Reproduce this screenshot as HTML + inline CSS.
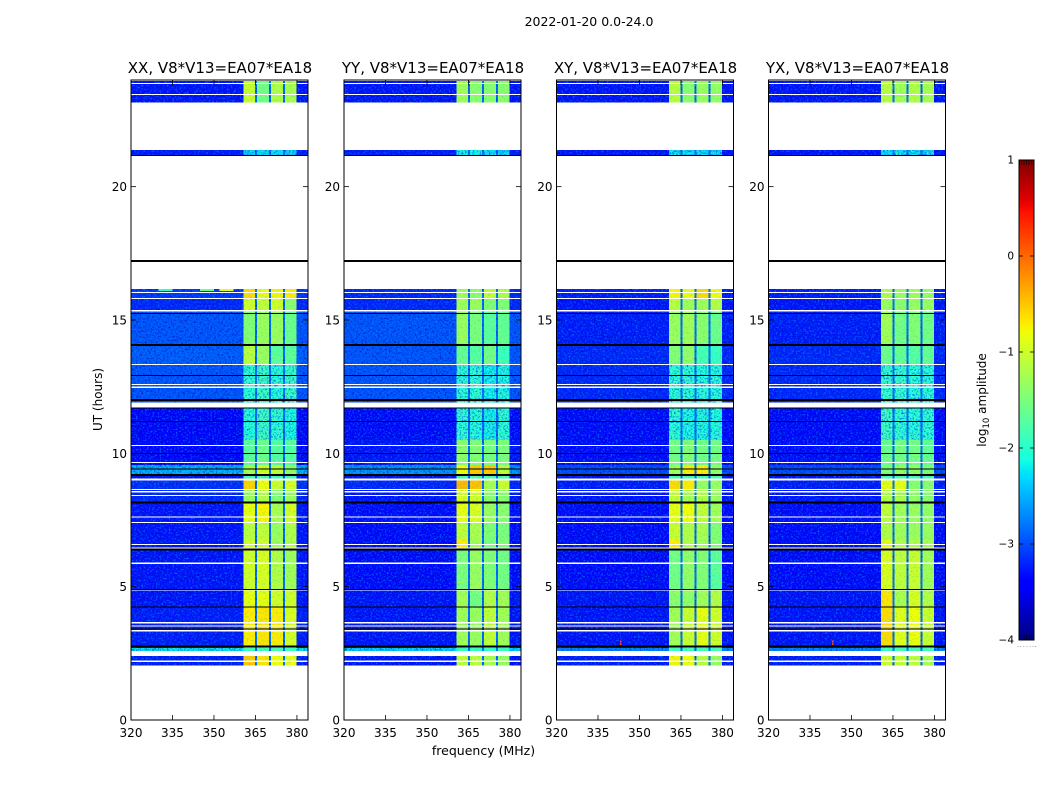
<!DOCTYPE html>
<html lang="en">
<head>
<meta charset="utf-8">
<title>2022-01-20 0.0-24.0</title>
<style>
html,body{margin:0;padding:0;background:#fff;}
svg{display:block;font-family:"DejaVu Sans","Liberation Sans",sans-serif;}
</style>
</head>
<body>
<svg id="chart" width="1050" height="800" viewBox="0 0 1050 800" xmlns="http://www.w3.org/2000/svg">
<defs id="defs"></defs>
<text x="589" y="26" font-size="12.5" text-anchor="middle" fill="#000">2022-01-20 0.0-24.0</text>
<text x="483.500" y="755" font-size="12.5" text-anchor="middle" fill="#000">frequency (MHz)</text>
<text transform="translate(102,399.500) rotate(-90)" font-size="12" text-anchor="middle" fill="#000">UT (hours)</text>
<text transform="translate(986,400) rotate(-90)" font-size="12" text-anchor="middle" fill="#000">log<tspan font-size="8.500" dy="3">10</tspan><tspan dy="-3"> amplitude</tspan></text>
<g id="panels"></g>
<g id="colorbar"></g>
</svg>
<script>
// ---- data (log10 amplitude) ----
const panelTitles = ["XX, V8*V13=EA07*EA18","YY, V8*V13=EA07*EA18","XY, V8*V13=EA07*EA18","YX, V8*V13=EA07*EA18"];
const panelNames = ["xx","yy","xy","yx"];
const hourTicks = [0,5,10,15,20];
const freqTicks = [320,335,350,365,380];
const colorbarTicks = [1,0,-1,-2,-3,-4];
// Time blocks, top to bottom (hours)
const rowTop    = [23.97,21.38,16.16,15.83,15.34,14.06,13.35,11.72,10.50,9.56,9.19,8.98,8.63,8.18,7.43,6.75,6.41,4.88,4.20,2.70,2.40];
const rowBottom = [23.16,21.19,15.83,15.34,14.06,13.35,11.91,10.50,9.56,9.19,9.06,8.63,8.18,7.43,6.75,6.41,4.88,4.20,2.70,2.59,2.04];
// Rows whose bands look strongly speckled in the picture
const noisyRows = [1,6,7];
// Sub-band frequency limits (MHz)
const bandLow  = [360.6,365.5,370.6,375.7];
const bandHigh = [364.8,369.9,375.0,379.9];
const freqMin = 320;
const freqMax = 384;
const gapLevel = -2.8;
// Each row: [background, band1, band2, band3, band4]
const xxLevels = [
 [-3.3,-1.05,-1.6,-1.2,-1.25],[-3.25,-2.4,-2.3,-2.3,-2.4],[-3.1,-0.6,-0.85,-0.75,-0.7],
 [-3.2,-1.0,-1.1,-1.0,-1.45],[-2.95,-1.5,-1.35,-1.35,-1.65],[-2.9,-1.15,-1.35,-1.75,-1.75],
 [-2.95,-2.05,-1.95,-2.1,-1.95],[-3.4,-2.1,-1.95,-2.05,-2.15],[-3.4,-1.75,-1.65,-1.8,-1.8],
 [-2.45,-1.25,-1.0,-1.1,-1.4],[-3.3,-1.9,-1.9,-1.9,-1.9],[-3.15,-0.55,-0.8,-1.05,-0.95],
 [-3.2,-1.35,-1.2,-1.5,-1.35],[-3.3,-0.85,-0.75,-1.25,-0.95],[-3.3,-1.15,-1.1,-1.35,-1.2],
 [-3.3,-1.0,-1.0,-1.3,-1.2],[-3.3,-1.0,-0.95,-1.2,-1.3],[-3.3,-0.85,-0.85,-1.0,-1.0],
 [-3.25,-0.7,-0.65,-0.7,-0.95],[-2.2,-1.9,-1.9,-1.9,-1.9],[-3.25,-0.5,-0.65,-0.8,-0.85]];
const yyLevels = [
 [-3.3,-1.3,-1.45,-1.45,-1.45],[-3.25,-2.2,-2.2,-2.3,-2.4],[-3.2,-1.3,-1.45,-1.1,-1.25],
 [-3.2,-1.3,-1.35,-1.5,-1.5],[-2.95,-1.35,-1.55,-1.75,-1.7],[-2.95,-1.7,-1.8,-1.6,-1.95],
 [-2.95,-2.05,-2.05,-2.2,-2.15],[-3.35,-2.05,-2.1,-2.2,-2.05],[-3.3,-1.45,-1.5,-1.55,-1.55],
 [-2.6,-0.8,-0.5,-0.5,-1.1],[-3.3,-1.9,-1.9,-1.9,-1.9],[-3.2,-0.4,-0.45,-1.25,-1.05],
 [-3.3,-0.95,-1.0,-1.45,-1.45],[-3.35,-0.85,-0.95,-1.35,-1.45],[-3.35,-1.1,-1.25,-1.5,-1.55],
 [-3.35,-0.7,-1.3,-1.55,-1.5],[-3.35,-1.55,-1.35,-1.5,-1.6],[-3.3,-1.3,-1.6,-1.2,-1.3],
 [-3.3,-1.3,-1.35,-1.1,-1.3],[-2.3,-2.0,-2.0,-2.0,-2.0],[-3.3,-1.1,-1.15,-1.25,-1.35]];
const xyLevels = [
 [-3.3,-1.15,-1.45,-1.35,-1.4],[-3.3,-2.3,-2.3,-2.3,-2.4],[-3.25,-0.75,-0.85,-0.6,-0.8],
 [-3.3,-1.15,-1.3,-1.3,-1.2],[-3.25,-1.35,-1.3,-1.45,-1.65],[-3.2,-1.5,-1.4,-1.9,-2.0],
 [-3.2,-2.05,-2.05,-2.1,-2.1],[-3.35,-2.05,-2.15,-2.15,-2.1],[-3.35,-1.6,-1.5,-1.6,-1.6],
 [-3.0,-1.3,-0.7,-0.7,-1.4],[-3.3,-1.9,-1.9,-1.9,-1.9],[-3.25,-0.6,-0.7,-1.35,-1.35],
 [-3.3,-1.1,-1.25,-1.2,-1.35],[-3.35,-0.85,-0.8,-1.1,-1.3],[-3.35,-1.05,-1.2,-1.25,-1.5],
 [-3.35,-0.7,-1.2,-1.3,-1.5],[-3.35,-1.6,-1.4,-1.5,-1.75],[-3.3,-1.45,-1.4,-1.3,-1.2],
 [-3.3,-1.3,-1.05,-0.85,-1.0],[-2.7,-1.9,-1.9,-1.9,-1.9],[-3.25,-0.75,-0.8,-1.15,-1.35]];
const yxLevels = [
 [-3.3,-1.15,-1.3,-1.2,-1.25],[-3.3,-2.3,-2.3,-2.3,-2.4],[-3.25,-1.2,-1.35,-1.3,-1.35],
 [-3.3,-1.35,-1.45,-1.35,-1.35],[-3.25,-1.3,-1.6,-1.5,-1.6],[-3.2,-1.65,-1.7,-1.8,-1.7],
 [-3.2,-2.0,-2.0,-2.1,-2.05],[-3.35,-1.95,-2.05,-2.1,-2.05],[-3.35,-1.65,-1.6,-1.6,-1.7],
 [-3.0,-1.5,-1.4,-1.4,-1.5],[-3.3,-1.9,-1.9,-1.9,-1.9],[-3.25,-0.85,-0.85,-1.45,-1.45],
 [-3.3,-1.2,-1.25,-1.4,-1.45],[-3.35,-1.1,-1.3,-1.35,-1.4],[-3.35,-1.2,-1.3,-1.35,-1.35],
 [-3.35,-0.85,-1.2,-1.2,-1.25],[-3.35,-0.95,-1.1,-1.05,-1.3],[-3.3,-0.65,-1.25,-0.95,-1.2],
 [-3.3,-0.6,-0.9,-0.8,-1.05],[-2.7,-1.9,-1.9,-1.9,-1.9],[-3.25,-1.0,-1.05,-1.1,-1.25]];
const panelLevels = [xxLevels,yyLevels,xyLevels,yxLevels];
// Flagged / missing integrations (hours)
const whiteLineHours = [23.87,23.46,16.03,15.81,15.35,13.34,12.58,12.48,10.30,9.66,8.65,8.56,8.42,7.62,7.41,6.59,6.45,5.88,4.88,3.65,3.53,3.35,2.21];
const blackThinHours = [21.17,15.25,12.91,11.70,11.20,10.00,9.42,4.90,4.23,3.42];
const blackThickHours = [17.22,14.06,12.00,9.19,8.16,6.39,2.75];
// Isolated hot spots: panel index, frequency (MHz), hour, level
const spotPanel = [2,2,3,3,0,0,0];
const spotFreq  = [343,343,343,343,330,345,352];
const spotHour  = [2.95,2.85,2.95,2.85,16.12,16.12,16.12];
const spotLevel = [0.1,0.2,0.1,0.2,-2.0,-1.6,-0.9];

// ---- geometry ----
const SVGNS = "http://www.w3.org/2000/svg";
const panelLeft = [131,344,556.5,768.5];
const panelWidth = 177;
const plotTop = 80, plotBottom = 720;
const cbLeft = 1019, cbRight = 1034, cbTop = 160, cbBottom = 640;
const xScale = (p,f) => panelLeft[p] + (f - freqMin) / (freqMax - freqMin) * panelWidth;
const yScale = h => plotBottom - h / 24 * (plotBottom - plotTop);
const cbScale = v => cbBottom - (v + 4) / 5 * (cbBottom - cbTop);

function ramp(t, pts){
  for (let i = 1; i < pts.length; i++) {
    if (t <= pts[i][0]) {
      const a = pts[i-1], b = pts[i];
      return a[1] + (t - a[0]) / (b[0] - a[0]) * (b[1] - a[1]);
    }
  }
  return pts[pts.length-1][1];
}
function jet(t){
  t = Math.max(0, Math.min(1, t));
  const r = ramp(t, [[0,0],[0.35,0],[0.66,1],[0.89,1],[1,0.5]]);
  const g = ramp(t, [[0,0],[0.125,0],[0.375,1],[0.64,1],[0.91,0],[1,0]]);
  const b = ramp(t, [[0,0.5],[0.11,1],[0.34,1],[0.65,0],[1,0]]);
  return "rgb(" + Math.round(r*255) + "," + Math.round(g*255) + "," + Math.round(b*255) + ")";
}
const levelColor = v => jet((v + 4) / 5);

function mk(tag, attrs, parent){
  const el = document.createElementNS(SVGNS, tag);
  for (const k in attrs) el.setAttribute(k, attrs[k]);
  parent.appendChild(el);
  return el;
}

const defs = document.getElementById("defs");
const panelsRoot = document.getElementById("panels");

// Speckle textures applied as rendering filters (visual grain only)
function makeSpeckle(id, left, seed, darkRgb, darkK, darkC, lightRgb, lightK, lightC){
  const f = mk("filter", {id:id, x:left, y:plotTop, width:panelWidth, height:plotBottom-plotTop, filterUnits:"userSpaceOnUse", "color-interpolation-filters":"sRGB"}, defs);
  mk("feTurbulence", {type:"fractalNoise", baseFrequency:"0.55", numOctaves:"2", seed:String(seed), result:"n"}, f);
  mk("feColorMatrix", {in:"n", type:"matrix", values:"0 0 0 0 "+darkRgb[0]+"  0 0 0 0 "+darkRgb[1]+"  0 0 0 0 "+darkRgb[2]+"  "+darkK+" 0 0 0 "+darkC, result:"dark"}, f);
  mk("feComposite", {in:"dark", in2:"SourceAlpha", operator:"in", result:"darkIn"}, f);
  mk("feColorMatrix", {in:"n", type:"matrix", values:"0 0 0 0 "+lightRgb[0]+"  0 0 0 0 "+lightRgb[1]+"  0 0 0 0 "+lightRgb[2]+"  0 "+lightK+" 0 0 "+lightC, result:"light"}, f);
  mk("feComposite", {in:"light", in2:"SourceAlpha", operator:"in", result:"lightIn"}, f);
  const m = mk("feMerge", {}, f);
  mk("feMergeNode", {in:"SourceGraphic"}, m);
  mk("feMergeNode", {in:"darkIn"}, m);
  mk("feMergeNode", {in:"lightIn"}, m);
}
panelLeft.forEach((left, p) => {
  makeSpeckle("speckleBg"+p, left, 3+p*7, [0,0.05,0.7], 2.4, -1.15, [0,0.5,1], 2.6, -1.3);
  makeSpeckle("speckleSmooth"+p, left, 5+p*7, [0.3,0.8,0.3], 1.4, -0.72, [1,1,0.2], 1.2, -0.62);
  makeSpeckle("speckleNoisy"+p, left, 9+p*7, [0,0.25,0.9], 2.6, -1.25, [0.5,1,0.6], 2.4, -1.2);
});

panelLeft.forEach((left, p) => {
  const name = panelNames[p];
  const g = mk("g", {"shape-rendering":"crispEdges"}, panelsRoot);
  
  

  // heatmap cells, grouped by texture
  const cellsBg = mk("g", {filter:"url(#speckleBg"+p+")"}, g);
  
  
  const cellsSmooth = mk("g", {filter:"url(#speckleSmooth"+p+")"}, g);
  
  
  const cellsNoisy = mk("g", {filter:"url(#speckleNoisy"+p+")"}, g);
  
  

  const levels = panelLevels[p];
  rowTop.forEach((top, r) => {
    const row = levels[r];
    const y0 = yScale(top), y1 = yScale(rowBottom[r]);
    const bandGroup = noisyRows.includes(r) ? cellsNoisy : cellsSmooth;
    const spans = [[freqMin, bandLow[0], row[0], cellsBg]];
    bandLow.forEach((lo, b) => {
      spans.push([lo, bandHigh[b], row[b+1], bandGroup]);
      const next = b < bandLow.length - 1 ? bandLow[b+1] : null;
      if (next !== null) spans.push([bandHigh[b], next, gapLevel, cellsBg]);
    });
    spans.push([bandHigh[bandHigh.length-1], freqMax, row[0], cellsBg]);
    spans.forEach(s => {
      const cell = mk("rect", {x:xScale(p,s[0]), y:y0, width:xScale(p,s[1])-xScale(p,s[0]), height:y1-y0, fill:levelColor(s[2])}, s[3]);
      
      
    });
  });

  // hot spots
  spotPanel.forEach((sp, i) => {
    if (sp !== p) return;
    const wide = spotLevel[i] < -0.5 ? 10 : 1;
    const spot = mk("rect", {x:xScale(p,spotFreq[i]), y:yScale(spotHour[i])-1, width:wide*1.4, height:2, fill:levelColor(spotLevel[i])}, g);
    
    
  });

  // flagged lines
  whiteLineHours.forEach(h => {
    const l = mk("rect", {x:left, y:yScale(h)-0.5, width:panelWidth, height:1.2, fill:"#fff"}, g);
    
    
  });
  blackThinHours.forEach(h => {
    const l = mk("rect", {x:left, y:yScale(h)-0.5, width:panelWidth, height:1, fill:"#000"}, g);
    
    
  });
  blackThickHours.forEach(h => {
    const l = mk("rect", {x:left, y:yScale(h)-1, width:panelWidth, height:2, fill:"#000"}, g);
    
    
  });

  // frame
  const frame = mk("rect", {x:left, y:plotTop, width:panelWidth, height:plotBottom-plotTop, fill:"none", stroke:"#000", "stroke-width":"1", "shape-rendering":"auto"}, panelsRoot);
  
  

  // ticks
  hourTicks.forEach(h => {
    const y = yScale(h);
    const t1 = mk("line", {x1:left, x2:left+5, y1:y, y2:y, stroke:"#000", "stroke-width":"0.8"}, panelsRoot);
    
    
    const t2 = mk("line", {x1:left+panelWidth-5, x2:left+panelWidth, y1:y, y2:y, stroke:"#000", "stroke-width":"0.8"}, panelsRoot);
    
    
    const label = mk("text", {x:left-4, y:y+4.5, "font-size":"12", "text-anchor":"end", fill:"#000"}, panelsRoot);
    label.textContent = String(h);
    
    
  });
  freqTicks.forEach(f => {
    const x = xScale(p,f);
    const t1 = mk("line", {x1:x, x2:x, y1:plotBottom, y2:plotBottom-5, stroke:"#000", "stroke-width":"0.8"}, panelsRoot);
    
    
    const t2 = mk("line", {x1:x, x2:x, y1:plotTop, y2:plotTop+5, stroke:"#000", "stroke-width":"0.8"}, panelsRoot);
    
    
    const label = mk("text", {x:x, y:plotBottom+17, "font-size":"12", "text-anchor":"middle", fill:"#000"}, panelsRoot);
    label.textContent = String(f);
    
    
  });

  // title
  const title = mk("text", {x:left+panelWidth/2+0.5, y:plotTop-7, "font-size":"15", "text-anchor":"middle", fill:"#000"}, panelsRoot);
  title.textContent = panelTitles[p];
  
  
});

// ---- colorbar ----
const cb = document.getElementById("colorbar");
const grad = mk("linearGradient", {id:"jetGrad", x1:"0", y1:"1", x2:"0", y2:"0"}, defs);
for (let i = 0; i <= 64; i++) {
  mk("stop", {offset:i/64, "stop-color":jet(i/64)}, grad);
}
const cbRect = mk("rect", {x:cbLeft, y:cbTop, width:cbRight-cbLeft, height:cbBottom-cbTop, fill:"url(#jetGrad)", stroke:"#000", "stroke-width":"1"}, cb);


colorbarTicks.forEach(v => {
  const y = cbScale(v);
  if (v > -4 && v < 1) {
    const t1 = mk("line", {x1:cbLeft, x2:cbLeft+4, y1:y, y2:y, stroke:"#000", "stroke-width":"0.8"}, cb);
    
    
    const t2 = mk("line", {x1:cbRight-4, x2:cbRight, y1:y, y2:y, stroke:"#000", "stroke-width":"0.8"}, cb);
    
    
  }
  const label = mk("text", {x:cbLeft-5, y:y+3.5, "font-size":"10.5", "text-anchor":"end", fill:"#000"}, cb);
  label.textContent = String(v).replace("-", "\u2212");
  
  
});
[0.5,2.5,5,7.5,10,12.5,14.5].forEach(dx => {
  const top = mk("line", {x1:cbLeft+dx, x2:cbLeft+dx, y1:cbTop, y2:cbTop+5, stroke:"#000", "stroke-width":"0.6"}, cb);
  
  
  const bottom = mk("line", {x1:cbLeft+dx, x2:cbLeft+dx, y1:cbBottom, y2:cbBottom-5, stroke:"#000", "stroke-width":"0.6"}, cb);
  
  
  const dot = mk("rect", {x:cbLeft-2+dx*1.25, y:646, width:1, height:1, fill:"#aaa"}, cb);
  
  
});
</script>
</body>
</html>
